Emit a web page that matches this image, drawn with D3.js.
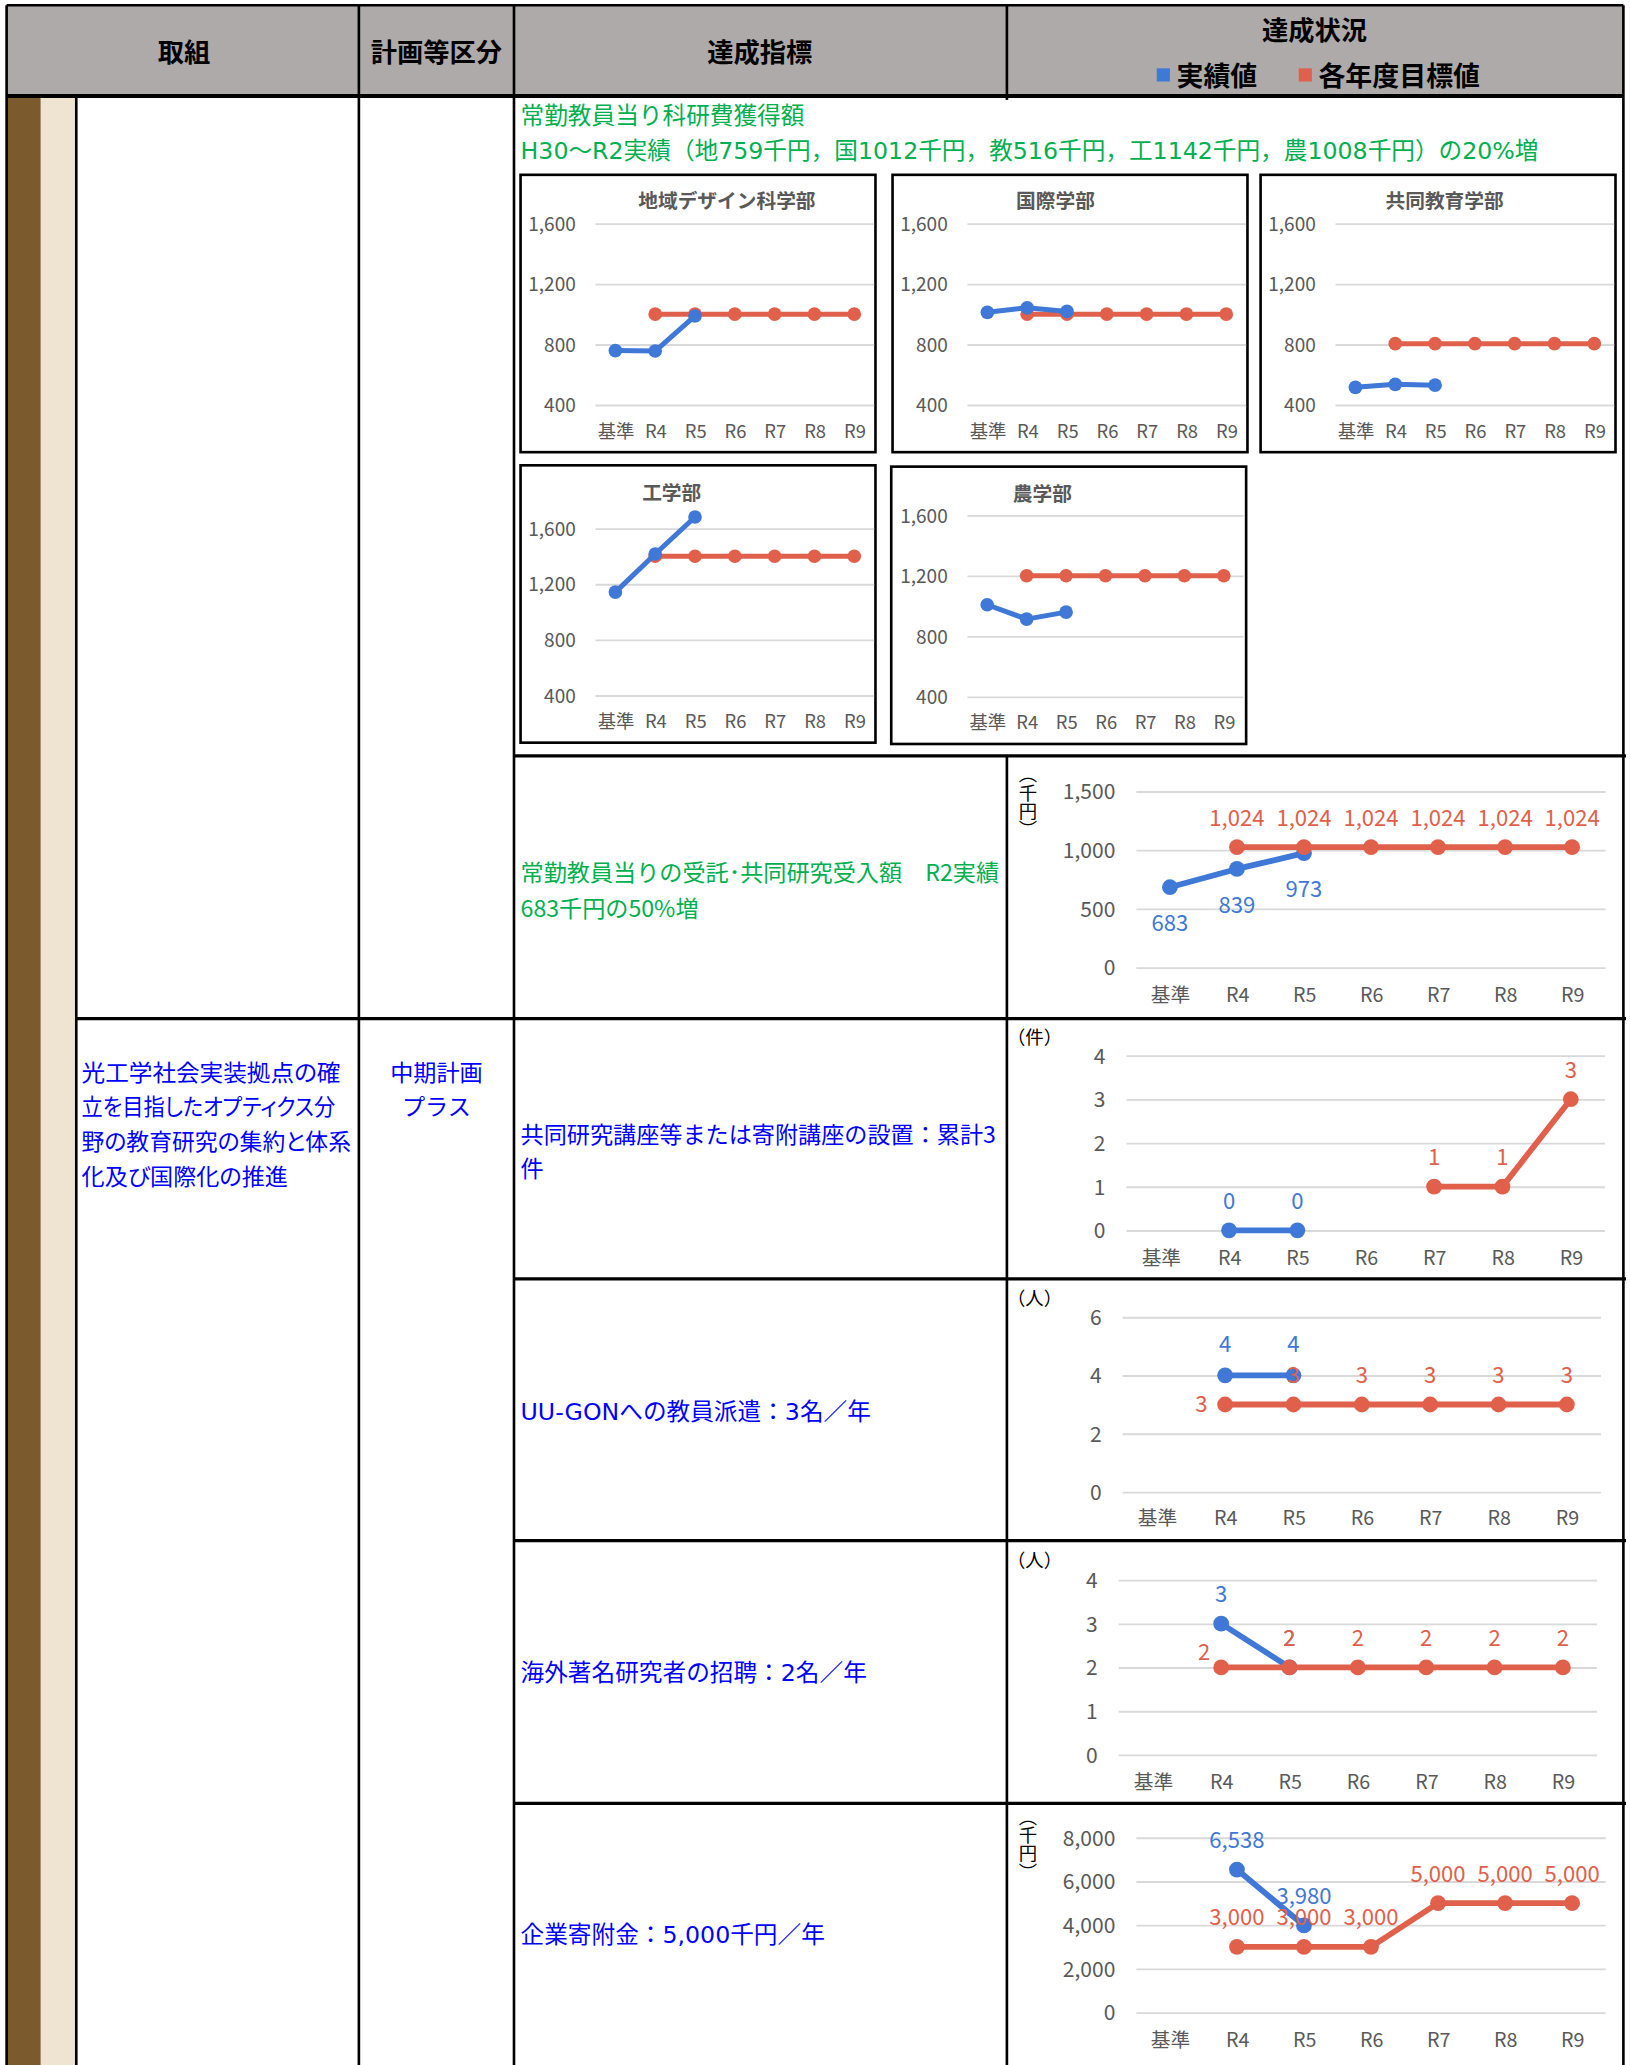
<!DOCTYPE html>
<html><head><meta charset="utf-8">
<script src="https://cdn.jsdelivr.net/npm/d3@7"></script>
<style>
body{margin:0;background:#fff}
svg{display:block}
text{font-family:"Noto Sans CJK JP","Noto Sans",sans-serif}
.wide{font-family:"DejaVu Sans","Noto Sans CJK JP",sans-serif}
.palt{font-feature-settings:"palt" 1}
</style>
</head><body>
<svg id="c" width="1630" height="2065" viewBox="0 0 1240 1571"></svg>
<script>
// ---------- data ----------
const categories = ["基準","R4","R5","R6","R7","R8","R9"];
const deptNames = ["地域デザイン科学部","国際学部","共同教育学部","工学部","農学部"];
const deptTicks = [400, 800, 1200, 1600];
const chiikiActual  = [759, 756, 988, null, null, null, null];
const chiikiTarget  = [null, 1000, 1000, 1000, 1000, 1000, 1000];
const kokusaiActual = [1012, 1042, 1018, null, null, null, null];
const kokusaiTarget = [null, 1000, 1000, 1000, 1000, 1000, 1000];
const kyodoActual   = [516, 536, 530, null, null, null, null];
const kyodoTarget   = [null, 805, 805, 805, 805, 805, 805];
const kogakuActual  = [1142, 1416, 1682, null, null, null, null];
const kogakuTarget  = [null, 1400, 1400, 1400, 1400, 1400, 1400];
const nogakuActual  = [1008, 913, 959, null, null, null, null];
const nogakuTarget  = [null, 1200, 1200, 1200, 1200, 1200, 1200];

const jutakuActual = [683, 839, 973, null, null, null, null];
const jutakuTarget = [null, 1024, 1024, 1024, 1024, 1024, 1024];
const jutakuTicks  = [0, 500, 1000, 1500];
const kozaActual   = [null, 0, 0, null, null, null, null];
const kozaTarget   = [null, null, null, null, 1, 1, 3];
const kozaTicks    = [0, 1, 2, 3, 4];
const uugonActual  = [null, 4, 4, null, null, null, null];
const uugonTarget  = [null, 3, 3, 3, 3, 3, 3];
const uugonTicks   = [0, 2, 4, 6];
const kaigaiActual = [null, 3, 2, null, null, null, null];
const kaigaiTarget = [null, 2, 2, 2, 2, 2, 2];
const kaigaiTicks  = [0, 1, 2, 3, 4];
const kifuActual   = [null, 6538, 3980, null, null, null, null];
const kifuTarget   = [null, 3000, 3000, 3000, 5000, 5000, 5000];
const kifuTicks    = [0, 2000, 4000, 6000, 8000];

// ---------- styles ----------
const BLUE = "#3F78D6", RED = "#E0604B", GRID = "#D9D9D9", AXT = "#595959";
const GREEN = "#00B050", TXTBLUE = "#0000FF";
const svg = d3.select("#c");

// ---------- table ----------
svg.append("rect").attr("x",5).attr("y",4).attr("width",1230).attr("height",69).attr("fill","#AEAAAA");
svg.append("rect").attr("x",5).attr("y",73).attr("width",26).attr("height",1500).attr("fill","#7B5A2E");
svg.append("rect").attr("x",31).attr("y",73).attr("width",27).attr("height",1500).attr("fill","#EFE3D2");

const hdr = [["取組",140],["計画等区分",332],["達成指標",578]];
svg.selectAll(null).data(hdr).join("text")
  .attr("x",d=>d[1]).attr("y",39).attr("text-anchor","middle").attr("dominant-baseline","central")
  .attr("font-size",20).attr("font-weight","bold").attr("fill","#000").text(d=>d[0]);
svg.append("text").attr("x",1000).attr("y",22).attr("text-anchor","middle").attr("dominant-baseline","central")
  .attr("font-size",20).attr("font-weight","bold").text("達成状況");
svg.append("rect").attr("x",880).attr("y",52).attr("width",10).attr("height",10).attr("fill",BLUE);
svg.append("text").attr("x",895).attr("y",57).attr("dominant-baseline","central").attr("font-size",20.5).attr("font-weight","bold").text("実績値");
svg.append("rect").attr("x",988).attr("y",52).attr("width",10).attr("height",10).attr("fill",RED);
svg.append("text").attr("x",1003).attr("y",57).attr("dominant-baseline","central").attr("font-size",20.5).attr("font-weight","bold").text("各年度目標値");

const B = 1575;
const vlines = [[5,4,B,2],[58,73,B,2],[273,4,B,2],[391,4,B,2],[766,4,76,2],[766,575,B,2],[1235,4,B,2]];
svg.selectAll(null).data(vlines).join("line")
  .attr("x1",d=>d[0]).attr("x2",d=>d[0]).attr("y1",d=>d[1]).attr("y2",d=>d[2])
  .attr("stroke","#000").attr("stroke-width",d=>d[3]);
const hlines = [[5,1235,4,2],[5,1235,73,3],[391,1237,575,2.5],[58,1237,775,2.5],[391,1237,973,2.5],[391,1237,1172,2.5],[391,1237,1372,2.5]];
svg.selectAll(null).data(hlines).join("line")
  .attr("x1",d=>d[0]).attr("x2",d=>d[1]).attr("y1",d=>d[2]).attr("y2",d=>d[2])
  .attr("stroke","#000").attr("stroke-width",d=>d[3]);

function multiText(x, ys, lines, color, opt){
  opt = opt || {};
  const t = svg.append("text").attr("class",opt.cls||null).attr("fill",color)
    .attr("font-size",opt.size||17.6).attr("text-anchor",opt.anchor||"start");
  lines.forEach((l,i)=>{
    const ts = t.append("tspan").attr("x",x).attr("y",ys[i]).attr("dominant-baseline","central").text(l);
    if (opt.lens) ts.attr("textLength",opt.lens[i]).attr("lengthAdjust","spacingAndGlyphs");
  });
}
multiText(396,[88,115],["常勤教員当り科研費獲得額","H30～R2実績（地759千円，国1012千円，教516千円，工1142千円，農1008千円）の20%増"],GREEN,{cls:"wide",size:18});
multiText(396,[663,690],["常勤教員当りの受託･共同研究受入額　R2実績","683千円の50%増"],GREEN);
multiText(396,[862,888],["共同研究講座等または寄附講座の設置：累計3","件"],TXTBLUE);
multiText(396,[1074],["UU-GONへの教員派遣：3名／年"],TXTBLUE,{cls:"wide",size:18});
multiText(396,[1273],["海外著名研究者の招聘：2名／年"],TXTBLUE,{cls:"wide",size:18});
multiText(396,[1472],["企業寄附金：5,000千円／年"],TXTBLUE,{cls:"wide",size:18});
multiText(62,[815,841,867,894],["光工学社会実装拠点の確","立を目指したオプティクス分","野の教育研究の集約と体系","化及び国際化の推進"],TXTBLUE,
  {cls:"palt",size:17.6,lens:[197,193,205,157]});
multiText(332,[815,841],["中期計画","プラス"],TXTBLUE,{anchor:"middle"});

// ---------- chart ----------
function lineChart(o){
  const g = svg.append("g");
  const x = d3.scalePoint().domain(categories).range([o.x0,o.x1]).padding(0.5);
  const y = d3.scaleLinear().domain(o.domain).range(o.range);
  const gx0 = o.gx0 ?? o.x0, gx1 = o.gx1 ?? o.x1;
  const grid = g.append("g").attr("transform",`translate(${gx0},0)`)
    .call(d3.axisLeft(y).tickValues(o.ticks).tickSize(-(gx1-gx0)).tickFormat(""));
  grid.select(".domain").remove();
  grid.selectAll("line").attr("stroke",GRID).attr("stroke-width",o.gw||1.4);
  const ya = g.append("g").attr("transform",`translate(${o.x0},0)`)
    .call(d3.axisLeft(y).tickValues(o.ticks).tickSize(0).tickPadding(o.lgap).tickFormat(d3.format(",")));
  ya.select(".domain").remove();
  ya.selectAll("text").attr("font-size",o.fs).attr("fill",AXT).attr("dy","0.35em");
  ya.attr("font-family",null);
  const xa = g.append("g").attr("transform",`translate(0,${o.catY})`)
    .call(d3.axisBottom(x).tickSize(0).tickPadding(0));
  xa.select(".domain").remove();
  xa.selectAll("text").attr("font-size",o.cfs||o.fs).attr("fill",AXT).attr("dy","0.35em");
  xa.attr("font-family",null);
  if (o.title) g.append("text").attr("x",o.titleX).attr("y",o.titleY).attr("text-anchor","middle")
    .attr("dominant-baseline","central").attr("font-size",o.tfs).attr("font-weight","bold").attr("fill",AXT).text(o.title);
  const pts = s => s.values.map((v,i)=>({c:categories[i],v,i})).filter(d=>d.v!=null);
  const line = d3.line().x(d=>x(d.c)).y(d=>y(d.v));
  o.series.forEach(s=>{
    const p = pts(s);
    g.append("path").attr("d",line(p)).attr("fill","none").attr("stroke",s.color)
      .attr("stroke-width",o.lw).attr("stroke-linejoin","round");
    g.selectAll(null).data(p).join("circle").attr("cx",d=>x(d.c)).attr("cy",d=>y(d.v))
      .attr("r",o.r).attr("fill",s.color);
  });
  o.series.forEach(s=>{
    if(!s.label) return;
    const p = pts(s);
    g.selectAll(null).data(p).join("text")
      .attr("x",(d,k)=>x(d.c)+((k===0&&s.firstLeft)?s.firstLeft[0]:0))
      .attr("y",(d,k)=>y(d.v)+((k===0&&s.firstLeft)?s.firstLeft[1]:s.dy))
      .attr("text-anchor","middle").attr("dominant-baseline","central")
      .attr("font-size",o.lfs).attr("fill",s.color).text(d=>d3.format(",")(d.v));
  });
  if (o.unit){
    const u = g.append("text").attr("x",o.unit.x).attr("y",o.unit.y).attr("font-size",o.unit.fs||14).attr("fill","#000")
      .attr("text-anchor","middle").text(o.unit.t);
    if (o.unit.vertical) u.style("writing-mode","vertical-rl");
    else u.attr("dominant-baseline","central");
  }
}

// small department charts
const boxes = [[396,133,270,211],[679,133,270,211],[959,133,270,211],[396,354,270,211],[678,355,270,211]];
svg.selectAll(null).data(boxes).join("rect")
  .attr("x",d=>d[0]).attr("y",d=>d[1]).attr("width",d=>d[2]).attr("height",d=>d[3])
  .attr("fill","#fff").attr("stroke","#000").attr("stroke-width",2);

const small = {fs:14.5, cfs:14, tfs:15, lw:3.8, r:5.2, lgap:15, ticks:deptTicks, domain:[400,1600]};
const deptSeries = [[chiikiActual,chiikiTarget],[kokusaiActual,kokusaiTarget],[kyodoActual,kyodoTarget],[kogakuActual,kogakuTarget],[nogakuActual,nogakuTarget]];
const deptLayout = [
  {x0:453,x1:665,range:[308,170],catY:328,titleX:553,titleY:152},
  {x0:736,x1:948,range:[308,170],catY:328,titleX:803,titleY:152},
  {x0:1016,x1:1228,range:[308,170],catY:328,titleX:1099,titleY:152},
  {x0:453,x1:665,range:[529,402],catY:549,titleX:511,titleY:374},
  {x0:736,x1:946,range:[530,392],catY:550,titleX:793,titleY:375}
];
deptLayout.forEach((L,i)=>{
  lineChart(Object.assign({}, small, L, {title:deptNames[i],
    series:[{values:deptSeries[i][1],color:RED},{values:deptSeries[i][0],color:BLUE}]}));
});

// large charts
const big = {fs:16, cfs:15, lfs:16.8, lw:4.4, r:6, lgap:16};
lineChart(Object.assign({},big,{x0:864.5,x1:1221.5,domain:[0,1500],range:[736,602],ticks:jutakuTicks,catY:757,
  unit:{x:782,y:610,t:"（千円）",vertical:true,fs:14},
  series:[{values:jutakuActual,color:BLUE,label:true,dy:26},{values:jutakuTarget,color:RED,label:true,dy:-24}]}));
lineChart(Object.assign({},big,{x0:857,x1:1221,domain:[0,4],range:[936,803],ticks:kozaTicks,catY:957,
  unit:{x:787,y:788,t:"（件）"},
  series:[{values:kozaActual,color:BLUE,label:true,dy:-24},{values:kozaTarget,color:RED,label:true,dy:-24}]}));
lineChart(Object.assign({},big,{x0:854,x1:1218,domain:[0,6],range:[1135,1002],ticks:uugonTicks,catY:1155,
  unit:{x:787,y:987,t:"（人）"},
  series:[{values:uugonActual,color:BLUE,label:true,dy:-25},{values:uugonTarget,color:RED,label:true,dy:-24,firstLeft:[-18,-2]}]}));
lineChart(Object.assign({},big,{x0:851,x1:1215,domain:[0,4],range:[1335,1202],ticks:kaigaiTicks,catY:1356,
  unit:{x:787,y:1186,t:"（人）"},
  series:[{values:kaigaiActual,color:BLUE,label:true,dy:-24},{values:kaigaiTarget,color:RED,label:true,dy:-24,firstLeft:[-13,-13]}]}));
lineChart(Object.assign({},big,{x0:864.5,x1:1221.5,domain:[0,8000],range:[1531,1398],ticks:kifuTicks,catY:1552,
  unit:{x:782,y:1403,t:"（千円）",vertical:true,fs:14},
  series:[{values:kifuActual,color:BLUE,label:true,dy:-24},{values:kifuTarget,color:RED,label:true,dy:-24}]}));
</script>
</body></html>
